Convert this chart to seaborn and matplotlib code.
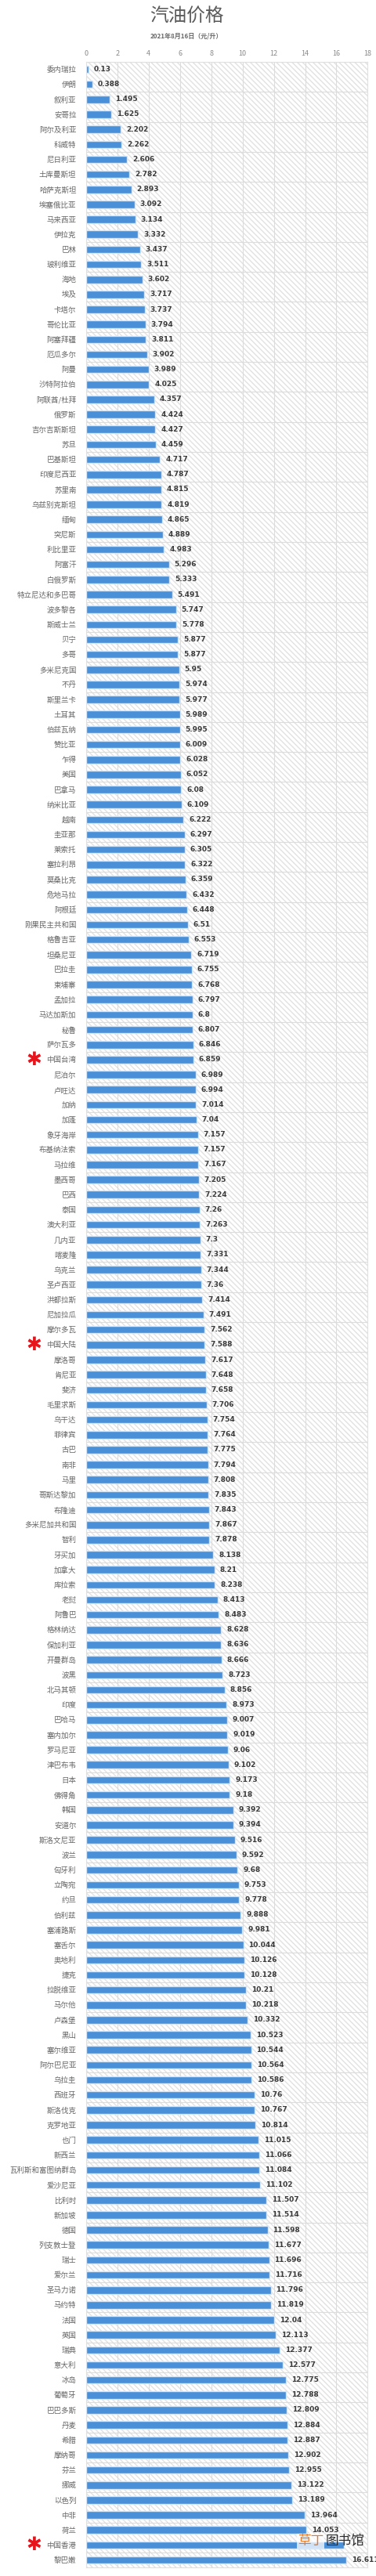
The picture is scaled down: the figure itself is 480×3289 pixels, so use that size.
import numpy as np
import pandas as pd
import seaborn as sns
import matplotlib.pyplot as plt
from matplotlib.patches import Rectangle

# 汽油价格 2021年8月16日 (元/升)
countries = ["委内瑞拉", "伊朗", "叙利亚", "安哥拉", "阿尔及利亚", "科威特", "尼日利亚", "土库曼斯坦",
             "哈萨克斯坦", "埃塞俄比亚", "马来西亚", "伊拉克", "巴林", "玻利维亚", "海地", "埃及",
             "卡塔尔", "哥伦比亚", "阿塞拜疆", "厄瓜多尔", "阿曼", "沙特阿拉伯", "阿联酋/杜拜", "俄罗斯",
             "吉尔吉斯斯坦", "苏旦", "巴基斯坦", "印度尼西亚", "苏里南", "乌兹别克斯坦", "缅甸", "突尼斯",
             "利比里亚", "阿富汗", "白俄罗斯", "特立尼达和多巴哥", "波多黎各", "斯威士兰", "贝宁", "多哥",
             "多米尼克国", "不丹", "斯里兰卡", "土耳其", "伯兹瓦纳", "赞比亚", "乍得", "美国",
             "巴拿马", "纳米比亚", "越南", "圭亚那", "莱索托", "塞拉利昂", "莫桑比克", "危地马拉",
             "阿根廷", "刚果民主共和国", "格鲁吉亚", "坦桑尼亚", "巴拉圭", "柬埔寨", "孟加拉", "马达加斯加",
             "秘鲁", "萨尔瓦多", "中国台湾", "尼泊尔", "卢旺达", "加纳", "加蓬", "象牙海岸",
             "布基纳法索", "马拉维", "墨西哥", "巴西", "泰国", "澳大利亚", "几内亚", "喀麦隆",
             "乌克兰", "圣卢西亚", "洪都拉斯", "尼加拉瓜", "摩尔多瓦", "中国大陆", "摩洛哥", "肯尼亚",
             "斐济", "毛里求斯", "乌干达", "菲律宾", "古巴", "南非", "马里", "哥斯达黎加",
             "布隆迪", "多米尼加共和国", "智利", "牙买加", "加拿大", "库拉索", "老挝", "阿鲁巴",
             "格林纳达", "保加利亚", "开曼群岛", "波黑", "北马其顿", "印度", "巴哈马", "塞内加尔",
             "罗马尼亚", "津巴布韦", "日本", "佛得角", "韩国", "安道尔", "斯洛文尼亚", "波兰",
             "匈牙利", "立陶宛", "约旦", "伯利兹", "塞浦路斯", "塞舌尔", "奥地利", "捷克",
             "拉脱维亚", "马尔他", "卢森堡", "黑山", "塞尔维亚", "阿尔巴尼亚", "乌拉圭", "西班牙",
             "斯洛伐克", "克罗地亚", "也门", "新西兰", "瓦利斯和富图纳群岛", "爱沙尼亚", "比利时", "新加坡",
             "德国", "列支敦士登", "瑞士", "爱尔兰", "圣马力诺", "马约特", "法国", "英国",
             "瑞典", "意大利", "冰岛", "葡萄牙", "巴巴多斯", "丹麦", "希腊", "摩纳哥",
             "芬兰", "挪威", "以色列", "中非", "荷兰", "中国香港", "黎巴嫩"]

prices = [0.13, 0.388, 1.495, 1.625, 2.202, 2.262, 2.606, 2.782,
          2.893, 3.092, 3.134, 3.332, 3.437, 3.511, 3.602, 3.717,
          3.737, 3.794, 3.811, 3.902, 3.989, 4.025, 4.357, 4.424,
          4.427, 4.459, 4.717, 4.787, 4.815, 4.819, 4.865, 4.889,
          4.983, 5.296, 5.333, 5.491, 5.747, 5.778, 5.877, 5.877,
          5.95, 5.974, 5.977, 5.989, 5.995, 6.009, 6.028, 6.052,
          6.08, 6.109, 6.222, 6.297, 6.305, 6.322, 6.359, 6.432,
          6.448, 6.51, 6.553, 6.719, 6.755, 6.768, 6.797, 6.8,
          6.807, 6.846, 6.859, 6.989, 6.994, 7.014, 7.04, 7.157,
          7.157, 7.167, 7.205, 7.224, 7.26, 7.263, 7.3, 7.331,
          7.344, 7.36, 7.414, 7.491, 7.562, 7.588, 7.617, 7.648,
          7.658, 7.706, 7.754, 7.764, 7.775, 7.794, 7.808, 7.835,
          7.843, 7.867, 7.878, 8.138, 8.21, 8.238, 8.413, 8.483,
          8.628, 8.636, 8.666, 8.723, 8.856, 8.973, 9.007, 9.019,
          9.06, 9.102, 9.173, 9.18, 9.392, 9.394, 9.516, 9.592,
          9.68, 9.753, 9.778, 9.888, 9.981, 10.044, 10.126, 10.128,
          10.21, 10.218, 10.332, 10.523, 10.544, 10.564, 10.586, 10.76,
          10.767, 10.814, 11.015, 11.066, 11.084, 11.102, 11.507, 11.514,
          11.598, 11.677, 11.696, 11.716, 11.796, 11.819, 12.04, 12.113,
          12.377, 12.577, 12.775, 12.788, 12.809, 12.884, 12.887, 12.902,
          12.955, 13.122, 13.189, 13.964, 14.053, 16.5, 16.611]

marked = ["中国台湾", "中国大陆", "中国香港"]
# value hidden under the watermark in the original
hidden = ["中国香港"]

df = pd.DataFrame({"country": countries, "price": prices})

sns.set_style("white")
plt.rcParams['font.family'] = ['Noto Sans CJK SC', 'DejaVu Sans']

fig = plt.figure(figsize=(4.8, 32.89), dpi=100)
ax = fig.add_axes([0.229, 0.0033, 0.749, 0.9727])

# hatched background
ax.add_patch(Rectangle((0, 0), 1, 1, transform=ax.transAxes, facecolor="white",
                       edgecolor="#e2e2e2", hatch="\\\\\\\\\\", lw=0, zorder=0))

sns.barplot(data=df, x="price", y="country", orient="h", color="#4a90d9",
            width=0.5, edgecolor="#d6e6f7", linewidth=1.0, saturation=1, ax=ax, zorder=3)

labels = ["" if c in hidden else f"{v:g}" for c, v in zip(countries, prices)]
for c in ax.containers:
    ax.bar_label(c, labels=labels, padding=5, fontsize=6.5,
                 fontweight="bold", color="#3a3a3a", family="DejaVu Sans")

ax.set_xlim(0, 18)
ax.set_ylim(len(countries) - 0.5, -0.5)
ax.set_xticks(np.arange(0, 19, 2))
ax.set_yticks(np.arange(-0.5, len(countries), 2), minor=True)
ax.xaxis.tick_top()
ax.tick_params(axis="x", length=0, pad=4, labelsize=6.5, labelcolor="#8a8a8a")
ax.tick_params(axis="y", which="both", length=0, pad=9, labelsize=6.8, labelcolor="#666666")
ax.grid(axis="x", color="#dcdcdc", lw=0.8, zorder=1)
ax.grid(axis="y", which="minor", color="#dcdcdc", lw=0.8, zorder=1)
ax.set_axisbelow(True)
ax.set_xlabel("")
ax.set_ylabel("")
for s in ax.spines.values():
    s.set_color("#e0e0e0")
    s.set_linewidth(0.8)

# red marks
for name in marked:
    i = countries.index(name)
    ax.text(-3.35, i, "✱", color="#e8141c", fontsize=17, ha="center", va="center",
            family="DejaVu Sans", clip_on=False, zorder=5)

fig.text(0.496, 0.9935, "汽油价格", ha="center", va="center", fontsize=17, color="#5a5a5a")
fig.text(0.496, 0.9861, "2021年8月16日（元/升）", ha="center", va="center", fontsize=5.8,
         color="#6a6a6a", fontweight="bold")

# watermark
fig.text(0.792, 0.0135, "草丁", ha="left", va="center", fontsize=12, color="#e8782a",
         bbox=dict(facecolor="white", alpha=0.75, edgecolor="none", pad=0.5))
fig.text(0.865, 0.0135, "图书馆", ha="left", va="center", fontsize=12, color="#2a2a2a")

fig.savefig("out.png", dpi=100)
